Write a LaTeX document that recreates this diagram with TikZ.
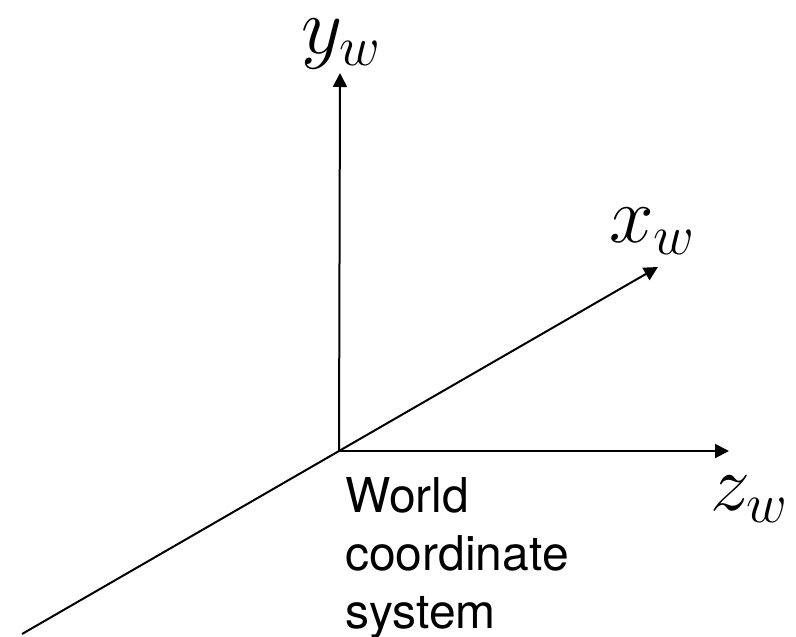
\RequirePackage{fix-cm}
\documentclass[tikz,border=0pt]{standalone}
\usepackage{fontspec}
\setsansfont{TeX Gyre Heros}
\usetikzlibrary{arrows.meta}

\begin{document}
\begin{tikzpicture}[x=0.75pt,y=-0.75pt,>={Triangle[length=10.5pt,width=10.5pt]},
  axis/.style={line width=1.5pt},
  axislabel/.style={font=\fontsize{60}{72}\selectfont,inner sep=0pt,anchor=base},
  caption/.style={font=\sffamily\fontsize{36}{43.5}\selectfont,inner sep=0pt,align=left,anchor=base west}]
  \useasboundingbox (0,0) rectangle (796,636);

  % origin and axis ends
  \coordinate (o) at (339,451);
  \coordinate (ytip) at (340,73);
  \coordinate (xtip) at (658,267);
  \coordinate (ztip) at (729,451);
  \coordinate (back) at (22,634);

  \draw[axis,->] (o) -- (ytip);
  \draw[axis,->] (o) -- (xtip);
  \draw[axis,->] (o) -- (ztip);
  \draw[axis] (o) -- (back);

  \node[axislabel] (ylab) at (341,53) {$y_w$};
  \node[axislabel] (xlab) at (652,242) {$x_w$};
  \node[axislabel] (zlab) at (749,510) {$z_w$};

  \node[caption] (world) at (345,628) {World\\coordinate\\system};
\end{tikzpicture}
\end{document}
